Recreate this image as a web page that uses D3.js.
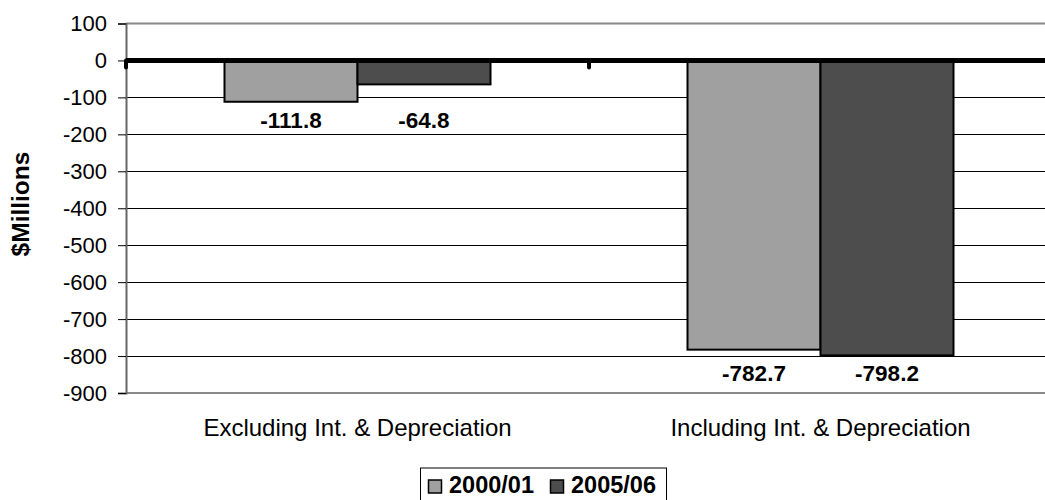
<!DOCTYPE html>
<html><head><meta charset="utf-8">
<script src="https://cdn.jsdelivr.net/npm/d3@7"></script>
<style>body{margin:0;background:#fff;overflow:hidden;}svg{display:block;font-family:"Liberation Sans",Arial,sans-serif;}</style>
</head><body>
<svg id="c" width="1045" height="500"></svg>
<script>
const categories = ["Excluding Int. & Depreciation", "Including Int. & Depreciation"];
const seriesNames = ["2000/01", "2005/06"];
const values2000 = [-111.8, -782.7];
const values2005 = [-64.8, -798.2];
const yTicks = [100, 0, -100, -200, -300, -400, -500, -600, -700, -800, -900];
const colors = ["#a0a0a0", "#4d4d4d"];

const svg = d3.select("#c");
const L = 126, R = 1052, T = 23.5, B = 393;
const y = d3.scaleLinear().domain([-900, 100]).range([B, T]);
const x0 = d3.scaleBand().domain(categories).range([L, R]).paddingInner(0).paddingOuter(0);
const x1 = d3.scaleBand().domain(seriesNames).range([0, 266]);
const groupOff = (x0.bandwidth() - 266) / 2;

// gridlines
svg.append("g").selectAll("line").data(yTicks.filter(v => v < 100 && v > -900 && v !== 0)).join("line")
  .attr("x1", L).attr("x2", R).attr("y1", d => Math.round(y(d)) + 0.5).attr("y2", d => Math.round(y(d)) + 0.5)
  .attr("stroke", "#000").attr("stroke-width", 1);
// plot border top/bottom
svg.append("line").attr("x1", L).attr("x2", R).attr("y1", y(100)).attr("y2", y(100)).attr("stroke", "#888").attr("stroke-width", 2);
svg.append("line").attr("x1", L).attr("x2", R).attr("y1", y(-900)).attr("y2", y(-900)).attr("stroke", "#888").attr("stroke-width", 2);

// y axis
const yAxis = d3.axisLeft(y).tickValues(yTicks).tickSize(8).tickPadding(11).tickFormat(d => String(d));
const ga = svg.append("g").attr("transform", `translate(${L},0)`).call(yAxis);
ga.attr("font-size", null).attr("font-family", null);
ga.select(".domain").attr("stroke", "#666").attr("stroke-width", 2);
ga.selectAll(".tick line").attr("stroke", "#000");
ga.selectAll(".tick text").attr("font-size", 22).attr("fill", "#000");

// bars
const data = [];
categories.forEach((c, i) => {
  data.push({cat: c, s: seriesNames[0], v: values2000[i], col: colors[0], gmin: Math.min(values2000[i], values2005[i])});
  data.push({cat: c, s: seriesNames[1], v: values2005[i], col: colors[1], gmin: Math.min(values2000[i], values2005[i])});
});
const bars = svg.append("g");
bars.selectAll("rect").data(data).join("rect")
  .attr("x", d => x0(d.cat) + groupOff + x1(d.s))
  .attr("width", x1.bandwidth())
  .attr("y", y(0))
  .attr("height", d => y(d.v) - y(0))
  .attr("fill", d => d.col).attr("stroke", "#000").attr("stroke-width", 2);
bars.selectAll("text").data(data).join("text")
  .attr("x", d => x0(d.cat) + groupOff + x1(d.s) + x1.bandwidth() / 2)
  .attr("y", d => y(d.gmin) + 26)
  .attr("text-anchor", "middle").attr("font-size", 22.5).attr("font-weight", "bold")
  .text(d => d.v.toFixed(1));

// zero axis line
svg.append("line").attr("x1", L).attr("x2", R).attr("y1", y(0)).attr("y2", y(0)).attr("stroke", "#000").attr("stroke-width", 5);
// category boundary ticks
svg.append("g").selectAll("line").data(categories).join("line")
  .attr("x1", d => x0(d)).attr("x2", d => x0(d))
  .attr("y1", y(0)).attr("y2", y(0) + 7)
  .attr("stroke", "#000").attr("stroke-width", 4).attr("stroke-linecap", "round");

// category labels
svg.append("g").selectAll("text").data(categories).join("text")
  .attr("x", d => x0(d) + x0.bandwidth() / 2)
  .attr("y", 436).attr("text-anchor", "middle").attr("font-size", 24).text(d => d);

// y label
svg.append("text").attr("transform", "translate(29,204) rotate(-90)")
  .attr("text-anchor", "middle").attr("font-size", 24.5).attr("font-weight", "bold").text("$Millions");

// legend
const lg = svg.append("g").attr("transform", "translate(420,467.5)");
lg.append("rect").attr("x", 0.5).attr("y", 0.5).attr("width", 246).attr("height", 40).attr("fill", "#fff").attr("stroke", "#000").attr("stroke-width", 1);
const items = [{n: seriesNames[0], c: colors[0], x: 8}, {n: seriesNames[1], c: colors[1], x: 130}];
items.forEach(it => {
  lg.append("rect").attr("x", it.x + 0.5).attr("y", 12.5).attr("width", 13).attr("height", 13).attr("fill", it.c).attr("stroke", "#000").attr("stroke-width", 1.5);
  lg.append("text").attr("x", it.x + 21).attr("y", 25).attr("font-size", 23.5).attr("font-weight", "bold").text(it.n);
});
</script>
</body></html>
